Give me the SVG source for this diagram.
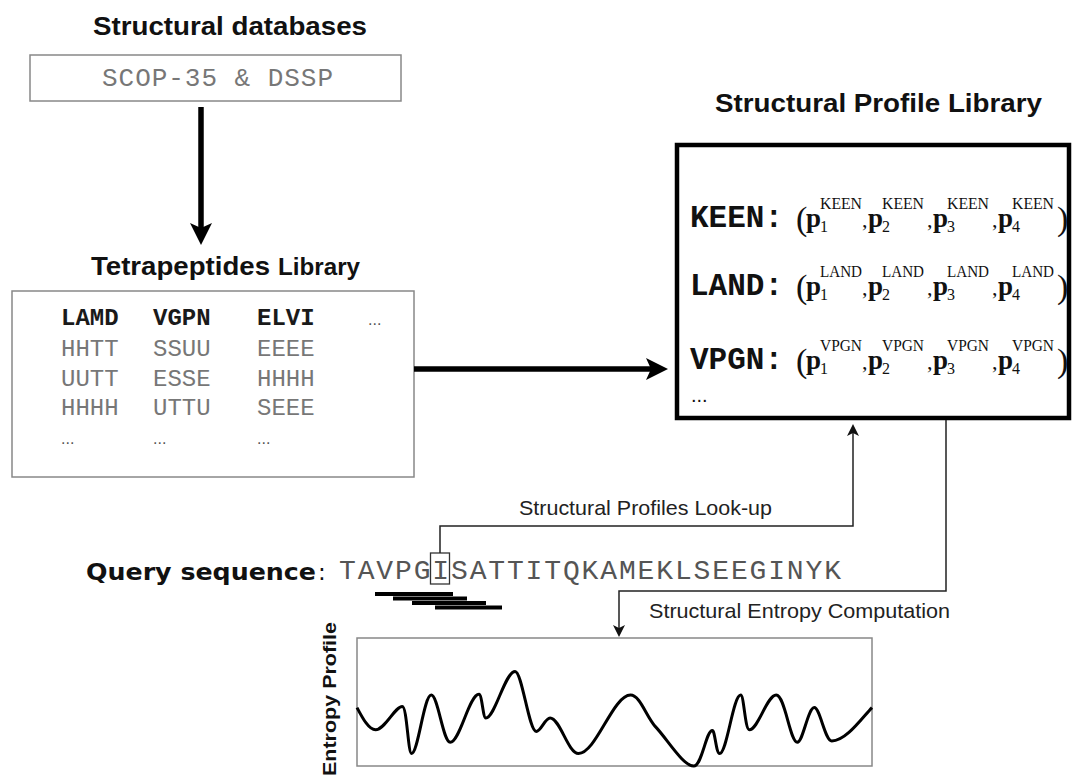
<svg xmlns="http://www.w3.org/2000/svg" width="1072" height="775" viewBox="0 0 1072 775">
  <defs>
    <style>
      .title { font-family: "Liberation Sans", Arial, sans-serif; font-weight: bold; fill: #111; }
      .label { font-family: "Liberation Sans", Arial, sans-serif; font-size: 21px; fill: #222; }
      .mono { font-family: "Liberation Mono", "Courier New", monospace; }
      .pep { font-size: 24px; fill: #777; }
      .pepb { font-size: 24px; font-weight: bold; fill: #1a1a1a; }
      .dots { font-family: "Liberation Sans", Arial, sans-serif; font-size: 16px; fill: #555; }
      .key { font-family: "Liberation Mono", "Courier New", monospace; font-size: 31px; font-weight: bold; fill: #111; }
      .serif { font-family: "Liberation Serif", "Times New Roman", serif; fill: #111; }
      .p { font-size: 27px; font-weight: bold; }
      .sup { font-size: 16px; }
      .sub { font-size: 16px; }
      .paren { font-size: 34px; }
      .cm { font-size: 22px; }
      .box { fill: #fff; stroke: #888; stroke-width: 1.5; }
      .thin { fill: none; stroke: #222; stroke-width: 1.5; }
      .thick { fill: none; stroke: #000; stroke-width: 5.5; }
    </style>
    <marker id="bigHead" markerUnits="userSpaceOnUse" markerWidth="24" markerHeight="24" viewBox="0 0 24 24" refX="10" refY="12" orient="auto">
      <path d="M0,1 L22,12 L0,23 L5,12 z" fill="#000"/>
    </marker>
    <marker id="smallHead" markerUnits="userSpaceOnUse" markerWidth="14" markerHeight="14" viewBox="0 0 14 14" refX="9" refY="7" orient="auto">
      <path d="M0,1 L12,7 L0,13 L3,7 z" fill="#111"/>
    </marker>
  </defs>

  <rect width="1072" height="775" fill="#fff"/>

  <!-- source databases -->
  <g id="structural-databases">
    <text class="title" x="93" y="35" font-size="26" textLength="274" lengthAdjust="spacingAndGlyphs">Structural databases</text>
    <rect class="box" x="30" y="55" width="371" height="46"/>
    <text class="mono" x="102" y="86" font-size="26" fill="#777" textLength="231" lengthAdjust="spacing">SCOP-35 &amp; DSSP</text>
  </g>

  <!-- tetrapeptide library -->
  <g id="tetrapeptides-library">
    <text class="title" x="91" y="275" font-size="26" textLength="179" lengthAdjust="spacingAndGlyphs">Tetrapeptides</text>
    <text class="title" x="278" y="275" font-size="23" textLength="82" lengthAdjust="spacingAndGlyphs">Library</text>
    <rect class="box" x="12" y="291" width="402" height="186"/>
    <g class="mono">
      <text class="pepb" x="61" y="325">LAMD</text>
      <text class="pepb" x="153" y="325">VGPN</text>
      <text class="pepb" x="257" y="325">ELVI</text>
      <text class="pep" x="61" y="356">HHTT</text>
      <text class="pep" x="153" y="356">SSUU</text>
      <text class="pep" x="257" y="356">EEEE</text>
      <text class="pep" x="61" y="386">UUTT</text>
      <text class="pep" x="153" y="386">ESSE</text>
      <text class="pep" x="257" y="386">HHHH</text>
      <text class="pep" x="61" y="415">HHHH</text>
      <text class="pep" x="153" y="415">UTTU</text>
      <text class="pep" x="257" y="415">SEEE</text>
    </g>
    <text class="dots" x="368" y="325">...</text>
    <text class="dots" x="61" y="444">...</text>
    <text class="dots" x="153" y="444">...</text>
    <text class="dots" x="257" y="444">...</text>
  </g>

  <!-- profile library -->
  <g id="structural-profile-library">
    <text class="title" x="715" y="112" font-size="26" textLength="327" lengthAdjust="spacingAndGlyphs">Structural Profile Library</text>
    <rect x="677" y="145" width="392" height="273" fill="#fff" stroke="#000" stroke-width="4.5"/>

    <g id="row-keen">
      <text class="key" x="690" y="227">KEEN:</text>
      <g class="serif">
        <text class="paren" x="796" y="230">(</text>
        <text class="p" x="806" y="227">p</text><text class="sub" x="820" y="232">1</text><text class="sup" x="820" y="209" textLength="42" lengthAdjust="spacingAndGlyphs">KEEN</text><text class="cm" x="862" y="227">,</text>
        <text class="p" x="868" y="227">p</text><text class="sub" x="882" y="232">2</text><text class="sup" x="882" y="209" textLength="42" lengthAdjust="spacingAndGlyphs">KEEN</text><text class="cm" x="927" y="227">,</text>
        <text class="p" x="933" y="227">p</text><text class="sub" x="947" y="232">3</text><text class="sup" x="947" y="209" textLength="42" lengthAdjust="spacingAndGlyphs">KEEN</text><text class="cm" x="992" y="227">,</text>
        <text class="p" x="998" y="227">p</text><text class="sub" x="1012" y="232">4</text><text class="sup" x="1012" y="209" textLength="42" lengthAdjust="spacingAndGlyphs">KEEN</text>
        <text class="paren" x="1057" y="230">)</text>
      </g>
    </g>

    <g id="row-land">
      <text class="key" x="690" y="295">LAND:</text>
      <g class="serif">
        <text class="paren" x="796" y="298">(</text>
        <text class="p" x="806" y="295">p</text><text class="sub" x="820" y="300">1</text><text class="sup" x="820" y="277" textLength="42" lengthAdjust="spacingAndGlyphs">LAND</text><text class="cm" x="862" y="295">,</text>
        <text class="p" x="868" y="295">p</text><text class="sub" x="882" y="300">2</text><text class="sup" x="882" y="277" textLength="42" lengthAdjust="spacingAndGlyphs">LAND</text><text class="cm" x="927" y="295">,</text>
        <text class="p" x="933" y="295">p</text><text class="sub" x="947" y="300">3</text><text class="sup" x="947" y="277" textLength="42" lengthAdjust="spacingAndGlyphs">LAND</text><text class="cm" x="992" y="295">,</text>
        <text class="p" x="998" y="295">p</text><text class="sub" x="1012" y="300">4</text><text class="sup" x="1012" y="277" textLength="42" lengthAdjust="spacingAndGlyphs">LAND</text>
        <text class="paren" x="1057" y="298">)</text>
      </g>
    </g>

    <g id="row-vpgn">
      <text class="key" x="690" y="369">VPGN:</text>
      <g class="serif">
        <text class="paren" x="796" y="372">(</text>
        <text class="p" x="806" y="369">p</text><text class="sub" x="820" y="374">1</text><text class="sup" x="820" y="351" textLength="42" lengthAdjust="spacingAndGlyphs">VPGN</text><text class="cm" x="862" y="369">,</text>
        <text class="p" x="868" y="369">p</text><text class="sub" x="882" y="374">2</text><text class="sup" x="882" y="351" textLength="42" lengthAdjust="spacingAndGlyphs">VPGN</text><text class="cm" x="927" y="369">,</text>
        <text class="p" x="933" y="369">p</text><text class="sub" x="947" y="374">3</text><text class="sup" x="947" y="351" textLength="42" lengthAdjust="spacingAndGlyphs">VPGN</text><text class="cm" x="992" y="369">,</text>
        <text class="p" x="998" y="369">p</text><text class="sub" x="1012" y="374">4</text><text class="sup" x="1012" y="351" textLength="42" lengthAdjust="spacingAndGlyphs">VPGN</text>
        <text class="paren" x="1057" y="372">)</text>
      </g>
    </g>
    <text x="691" y="402" font-family="Liberation Sans, Arial, sans-serif" font-size="20" fill="#111">...</text>
  </g>

  <!-- query sequence with sliding tetrapeptide windows -->
  <g id="query-sequence">
    <text class="title" x="86" y="580" font-size="23" textLength="230" lengthAdjust="spacingAndGlyphs" style="font-family: 'DejaVu Sans', sans-serif">Query sequence</text>
    <text x="318" y="580" font-size="23" fill="#111" style="font-family: 'DejaVu Sans', sans-serif">:</text>
    <text class="mono" x="339" y="579" font-size="28" fill="#555" textLength="502" lengthAdjust="spacing">TAVPGISATTITQKAMEKLSEEGINYK</text>
    <rect x="430.5" y="553" width="19" height="31" fill="none" stroke="#333" stroke-width="1.3"/>
    <g fill="#000">
      <rect x="375" y="592" width="78" height="4"/>
      <rect x="393" y="596.5" width="74" height="4"/>
      <rect x="412" y="601" width="74" height="4"/>
      <rect x="435" y="605.5" width="67" height="4"/>
    </g>
  </g>

  <!-- entropy profile plot -->
  <g id="entropy-profile">
    <text class="title" transform="translate(336,699) rotate(-90)" text-anchor="middle" font-size="18" textLength="154" lengthAdjust="spacingAndGlyphs">Entropy Profile</text>
    <rect class="box" x="357" y="638" width="515" height="128"/>
    <path fill="none" stroke="#000" stroke-width="3" stroke-linejoin="round" d="M357,707.6 C363,719 369,729.8 375.5,729.8 C385,729.8 395,706.4 402.3,706.4 C407,706.4 408,753.5 411.6,753.5 C418,753.5 424,695.1 431.2,695.1 C438,695.1 443,742.2 450.2,742.2 C460,742.2 469,694.3 479,694.3 C482,694.3 483,718 485.8,718 C495,718 505,671.4 515.1,671.4 C522,671.4 529,731.4 536.2,731.4 C541,731.4 545,718 550.1,718 C560,718 568,753.5 578.5,753.5 C596,753.5 613,695.1 630.5,695.1 C640,695.1 646,716 655.2,726.4 C668,740 683,766 693.8,766 C702,766 706,730.5 712.4,730.5 C715,730.5 716,753.5 719.6,753.5 C727,753.5 733,695.1 740.7,695.1 C744,695.1 745,729.8 749.4,729.8 C758,729.8 767,695.1 776.2,695.1 C785,695.1 790,742.2 797.3,742.2 C803,742.2 808,707.6 814.3,707.6 C820,707.6 825,741 831.8,741 C846,741 862,718 872,707.6"/>
  </g>

  <!-- connectors -->
  <g id="connectors">
    <line class="thick" x1="201" y1="107" x2="201" y2="233" marker-end="url(#bigHead)"/>
    <line class="thick" x1="414" y1="369" x2="656" y2="369" marker-end="url(#bigHead)"/>
    <path class="thin" d="M440,553 V526 H853 V427" marker-end="url(#smallHead)"/>
    <path class="thin" d="M946,420 V591 H619 V634" marker-end="url(#smallHead)"/>
    <text class="label" x="519" y="515" textLength="253" lengthAdjust="spacingAndGlyphs">Structural Profiles Look-up</text>
    <text class="label" x="649" y="618" textLength="301" lengthAdjust="spacingAndGlyphs">Structural Entropy Computation</text>
  </g>
</svg>
